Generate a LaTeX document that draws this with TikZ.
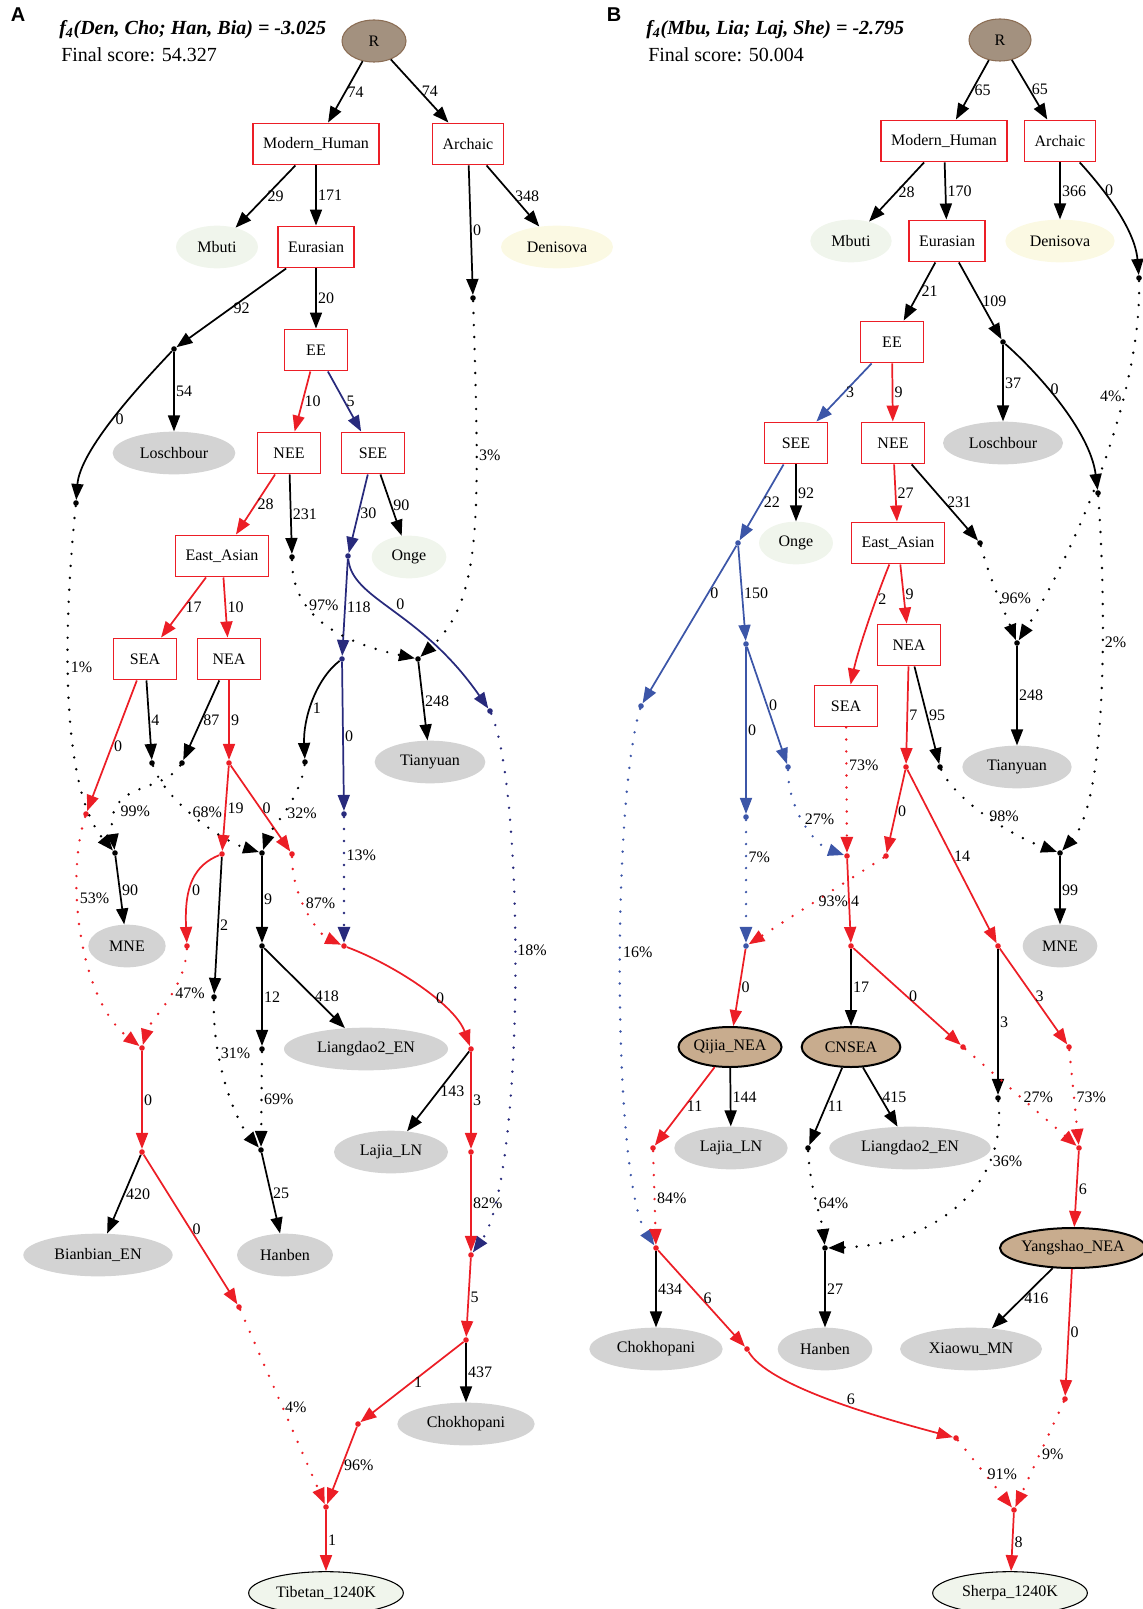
\documentclass[tikz,border=0pt]{standalone}
\usepackage{fontspec}
\setmainfont{Liberation Serif}
\newfontfamily\panelfont{Liberation Sans}
\usetikzlibrary{arrows.meta,shapes.geometric}
\definecolor{gvred}{RGB}{236,30,38}
\definecolor{gvnavy}{RGB}{40,42,124}
\definecolor{gvblue}{RGB}{60,86,168}
\definecolor{popgray}{RGB}{211,211,211}
\definecolor{palegreen}{RGB}{240,245,236}
\definecolor{paleyellow}{RGB}{251,249,227}
\definecolor{rootfill}{RGB}{163,145,127}
\definecolor{rootdraw}{RGB}{139,109,84}
\definecolor{tanfill}{RGB}{200,172,142}
\tikzset{
    every node/.style={font=\fontsize{12}{14}\selectfont},
    grp/.style={draw=gvred, line width=1.2pt, fill=white, minimum width=47pt,
        minimum height=31pt, inner xsep=7.5pt},
    pop/.style={ellipse, fill=popgray, inner sep=0pt, minimum height=32pt, minimum width=#1},
    mixed/.style={ellipse, draw=black, line width=1.5pt, fill=tanfill, inner sep=0pt,
        minimum height=30pt, minimum width=#1},
    target/.style={ellipse, draw=black, line width=0.8pt, fill=palegreen, inner sep=0pt,
        minimum height=32pt, minimum width=#1},
    root/.style={ellipse, draw=rootdraw, line width=0.8pt, fill=rootfill, inner sep=0pt,
        minimum width=48pt, minimum height=31.5pt},
    jn/.style={circle, fill=#1, inner sep=0pt, minimum size=4.2pt},
    br/.style={line width=1.3pt, -{Triangle[length=12pt,width=9pt]}},
    mx/.style={br, line width=2pt, line cap=round, dash pattern=on 0pt off 9pt},
    lab/.style={anchor=west, inner sep=1pt, text=black, pos=0.5},
    ttl/.style={anchor=base west, inner sep=0pt, font=\fontsize{15}{18}\selectfont},
    tag/.style={inner sep=0pt, font={\fontsize{15}{18}\panelfont\bfseries}}
}
\newcommand\MixPoint[3]{\node[jn=#1] (#2) at (#3) {};}

\begin{document}
\begin{tikzpicture}[x=0.75pt, y=-0.75pt]
    \useasboundingbox (0,0) rectangle (1142,1609);
    \begin{scope} % A
        \node[tag] (Atag) at (18,15) {A};
        \node[ttl, font=\fontsize{15}{18}\selectfont\bfseries\itshape] (Atitle) at (59,35) {f\textsubscript{4}(Den, Cho; Han, Bia) = -3.025};
        \node[ttl] (Ascore) at (61,62) {Final score: 54.327};
        \node[root] (AR) at (374,41) {R};
        \node[grp] (AMH) at (316,144) {Modern\_Human};
        \node[grp] (AArc) at (468,144) {Archaic};
        \node[pop=61.5pt, fill=palegreen] (AMbu) at (217,247) {Mbuti};
        \node[grp] (AEur) at (316,247) {Eurasian};
        \node[pop=84pt, fill=paleyellow] (ADen) at (557,247) {Denisova};
        \MixPoint{black}{Aa1}{473,298}
        \MixPoint{black}{Ae1}{174,349}
        \node[grp] (AEE) at (316,350) {EE};
        \node[pop=92pt] (ALos) at (174,453) {Loschbour};
        \node[grp] (ANEE) at (289,453) {NEE};
        \node[grp] (ASEE) at (373,453) {SEE};
        \MixPoint{black}{Ae2}{76,503}
        \node[grp] (AEA) at (222,556) {East\_Asian};
        \MixPoint{black}{An1}{292,557}
        \MixPoint{gvnavy}{As1}{348,556}
        \node[pop=56pt, fill=palegreen] (AOnge) at (409,557) {Onge};
        \node[grp] (ASEA) at (145,659) {SEA};
        \node[grp] (ANEA) at (229,659) {NEA};
        \MixPoint{black}{At1}{418,659}
        \MixPoint{gvnavy}{As2}{342,659}
        \MixPoint{gvnavy}{As3}{490,711}
        \node[pop=83pt] (ATian) at (430,762) {Tianyuan};
        \MixPoint{black}{Ap2}{152,763}
        \MixPoint{black}{Ap3}{182,763}
        \MixPoint{gvred}{Ap4}{229,763}
        \MixPoint{black}{As4}{305,762}
        \MixPoint{gvred}{Ap1}{86,814}
        \MixPoint{gvnavy}{As5}{344,814}
        \MixPoint{black}{Am1}{115,853}
        \MixPoint{gvred}{Ap5}{222,854}
        \MixPoint{black}{Am2}{262,853}
        \MixPoint{gvred}{Ap6}{292,854}
        \node[pop=58pt] (AMNE) at (127,946) {MNE};
        \MixPoint{gvred}{Ap7}{187,946}
        \MixPoint{black}{Am3}{262,946}
        \MixPoint{gvred}{As6}{344,946}
        \MixPoint{black}{Ap8}{214,997}
        \MixPoint{gvred}{Ab1}{142,1048}
        \MixPoint{black}{Am4}{262,1049}
        \node[pop=123pt] (ALia) at (366,1049) {Liangdao2\_EN};
        \MixPoint{gvred}{Ar1}{471,1049}
        \MixPoint{gvred}{Ab2}{142,1152}
        \MixPoint{black}{Ah1}{261,1150}
        \node[pop=85.5pt] (ALaj) at (391,1152) {Lajia\_LN};
        \MixPoint{gvred}{Ar2}{471,1152}
        \node[pop=112pt] (ABian) at (98,1255) {Bianbian\_EN};
        \node[pop=72pt] (AHan) at (285,1255) {Hanben};
        \MixPoint{gvred}{Ar3}{471,1255}
        \MixPoint{gvred}{Ab3}{239,1307}
        \MixPoint{gvred}{Ar4}{466,1340}
        \MixPoint{gvred}{Ar5}{358,1424}
        \node[pop=103pt] (ACho) at (466,1424) {Chokhopani};
        \MixPoint{gvred}{At2}{326,1507}
        \node[target=116pt] (ATib) at (326,1593) {Tibetan\_1240K};
        % tree edges
        \draw[br] (AR) -- node[lab] {74} (AMH);
        \draw[br] (AR) -- node[lab] {74} (AArc);
        \draw[br] (AMH) -- node[lab] {29} (AMbu);
        \draw[br] (AMH) -- node[lab] {171} (AEur);
        \draw[br] (AArc) -- node[lab] {0} (Aa1);
        \draw[br] (AArc) -- node[lab] {348} (ADen);
        \draw[br] (AEur) -- node[lab] {92} (Ae1);
        \draw[br] (AEur) -- node[lab] {20} (AEE);
        \draw[br] (Ae1) -- node[lab] {54} (ALos);
        \draw[br] (Ae1) .. controls (140,385) and (80,450) .. node[lab] {0} (Ae2);
        \draw[br, gvred] (AEE) -- node[lab] {10} (ANEE);
        \draw[br, gvnavy] (AEE) -- node[lab] {5} (ASEE);
        \draw[br, gvred] (ANEE) -- node[lab] {28} (AEA);
        \draw[br] (ANEE) -- node[lab] {231} (An1);
        \draw[br, gvnavy] (ASEE) -- node[lab] {30} (As1);
        \draw[br] (ASEE) -- node[lab] {90} (AOnge);
        \draw[br, gvred] (AEA) -- node[lab] {17} (ASEA);
        \draw[br, gvred] (AEA) -- node[lab] {10} (ANEA);
        \draw[br, gvnavy] (As1) -- node[lab] {118} (As2);
        \draw[br, gvnavy] (As1) .. controls (352,600) and (420,610) .. node[lab, anchor=south west] {0} (As3);
        \draw[br] (At1) -- node[lab] {248} (ATian);
        \draw[br] (As2) .. controls (315,680) and (303,720) .. node[lab, pos=.55] {1} (As4);
        \draw[br, gvnavy] (As2) -- node[lab] {0} (As5);
        \draw[br, gvred] (ASEA) -- node[lab] {0} (Ap1);
        \draw[br] (ASEA) -- node[lab] {4} (Ap2);
        \draw[br] (ANEA) -- node[lab] {87} (Ap3);
        \draw[br, gvred] (ANEA) -- node[lab] {9} (Ap4);
        \draw[br, gvred] (Ap4) -- node[lab] {19} (Ap5);
        \draw[br, gvred] (Ap4) -- node[lab] {0} (Ap6);
        \draw[br] (Am1) -- node[lab] {90} (AMNE);
        \draw[br, gvred] (Ap5) .. controls (195,865) and (184,885) .. node[lab, pos=.6] {0} (Ap7);
        \draw[br] (Ap5) -- node[lab] {2} (Ap8);
        \draw[br] (Am2) -- node[lab] {9} (Am3);
        \draw[br] (Am3) -- node[lab, pos=.6] {418} (ALia);
        \draw[br] (Am3) -- node[lab] {12} (Am4);
        \draw[br, gvred] (As6) .. controls (395,965) and (455,1005) .. node[lab, pos=.6] {0} (Ar1);
        \draw[br, gvred] (Ab1) -- node[lab] {0} (Ab2);
        \draw[br] (Ab2) -- node[lab] {420} (ABian);
        \draw[br, gvred] (Ab2) -- node[lab] {0} (Ab3);
        \draw[br] (Ah1) -- node[lab] {25} (AHan);
        \draw[br] (Ar1) -- node[lab] {143} (ALaj);
        \draw[br, gvred] (Ar1) -- node[lab] {3} (Ar2);
        \draw[br, gvred] (Ar2) -- node[lab] {82\%} (Ar3);
        \draw[br, gvred] (Ar3) -- node[lab] {5} (Ar4);
        \draw[br] (Ar4) -- node[lab] {437} (ACho);
        \draw[br, gvred] (Ar4) -- node[lab] {1} (Ar5);
        \draw[br, gvred] (Ar5) -- node[lab] {96\%} (At2);
        \draw[br, gvred] (At2) -- node[lab] {1} (ATib);
        % admixture edges
        \draw[mx] (Aa1) .. controls (480,520) and (482,600) .. node[lab, pos=.28] {3\%} (At1);
        \draw[mx] (Ae2) .. controls (62,640) and (62,790) .. node[lab, pos=.4] {1\%} (Am1);
        \draw[mx] (An1) .. controls (292,610) and (330,640) .. node[lab, pos=.35] {97\%} (At1);
        \draw[mx] (Ap3) .. controls (160,795) and (105,780) .. node[lab, pos=.75] {99\%} (Am1);
        \draw[mx] (Ap2) .. controls (165,800) and (220,840) .. node[lab, pos=.45] {68\%} (Am2);
        \draw[mx] (As4) .. controls (300,800) and (270,830) .. node[lab, pos=.5] {32\%} (Am2);
        \draw[mx, gvnavy] (As5) -- node[lab, pos=.3] {13\%} (As6);
        \draw[mx, gvred] (Ap6) .. controls (292,900) and (320,935) .. node[lab, pos=.4] {87\%} (As6);
        \draw[mx, gvred] (Ap1) .. controls (65,880) and (80,1000) .. node[lab, pos=.35] {53\%} (Ab1);
        \draw[mx, gvred] (Ap7) .. controls (185,990) and (150,1020) .. node[lab, pos=.4] {47\%} (Ab1);
        \draw[mx] (Ap8) .. controls (212,1060) and (235,1120) .. node[lab, pos=.3] {31\%} (Ah1);
        \draw[mx] (Am4) -- node[lab] {69\%} (Ah1);
        \draw[mx, gvnavy] (As3) .. controls (525,790) and (525,1180) .. node[lab, pos=.45] {18\%} (Ar3);
        \draw[mx, gvred] (Ab3) -- node[lab] {4\%} (At2);
    \end{scope}
    \begin{scope} % B
        \node[tag] (Btag) at (614,15) {B};
        \node[ttl, font=\fontsize{15}{18}\selectfont\bfseries\itshape] (Btitle) at (646,35) {f\textsubscript{4}(Mbu, Lia; Laj, She) = -2.795};
        \node[ttl] (Bscore) at (648,62) {Final score: 50.004};
        \node[root, minimum width=46.5pt] (BR) at (1000,40) {R};
        \node[grp] (BMH) at (944,141) {Modern\_Human};
        \node[grp] (BArc) at (1060,141) {Archaic};
        \node[pop=61pt, fill=palegreen] (BMbu) at (851,241) {Mbuti};
        \node[grp] (BEur) at (947,241) {Eurasian};
        \node[pop=82pt, fill=paleyellow] (BDen) at (1060,241) {Denisova};
        \MixPoint{black}{Bar1}{1139,278}
        \node[grp] (BEE) at (892,342) {EE};
        \MixPoint{black}{Beu1}{1003,342}
        \node[grp] (BSEE) at (796,443) {SEE};
        \node[grp] (BNEE) at (893,443) {NEE};
        \node[pop=90pt] (BLos) at (1003,443) {Loschbour};
        \MixPoint{black}{Beu2}{1098,493}
        \MixPoint{gvblue}{Bse1}{738,543}
        \node[pop=55.5pt, fill=palegreen] (BOnge) at (796,543) {Onge};
        \node[grp] (BEA) at (898,543) {East\_Asian};
        \MixPoint{black}{Bne1}{980,543}
        \MixPoint{gvblue}{Bse3}{746,644}
        \node[grp] (BNEA) at (909,645) {NEA};
        \MixPoint{black}{Bt1}{1017,643}
        \MixPoint{gvblue}{Bse2}{641,706}
        \node[grp] (BSEA) at (846,706) {SEA};
        \MixPoint{gvblue}{Bse5}{788,767}
        \MixPoint{gvred}{Bn2}{906,767}
        \MixPoint{black}{Bn3}{940,767}
        \node[pop=82pt] (BTian) at (1017,767) {Tianyuan};
        \MixPoint{gvblue}{Bse4}{746,817}
        \MixPoint{gvred}{Bc1}{847,856}
        \MixPoint{gvred}{Bn4}{886,856}
        \MixPoint{black}{Bm1}{1060,853}
        \MixPoint{gvblue}{Bq1}{746,946}
        \MixPoint{gvred}{Bc2}{851,946}
        \MixPoint{gvred}{Bn5}{998,946}
        \node[pop=56pt] (BMNE) at (1060,946) {MNE};
        \node[mixed=71pt] (BQij) at (730,1047) {Qijia\_NEA};
        \node[mixed=74pt] (BCN) at (851,1047) {CNSEA};
        \MixPoint{gvred}{Bc3}{963,1047}
        \MixPoint{gvred}{Bn7}{1069,1047}
        \MixPoint{black}{Bn6}{998,1098}
        \MixPoint{gvred}{Bqa}{653,1148}
        \node[pop=85pt] (BLaj) at (731,1148) {Lajia\_LN};
        \MixPoint{black}{Bcn1}{808,1148}
        \node[pop=121pt] (BLia) at (910,1148) {Liangdao2\_EN};
        \MixPoint{gvred}{By1}{1079,1148}
        \MixPoint{gvred}{Bch1}{656,1248}
        \MixPoint{black}{Bh1}{825,1248}
        \node[mixed=95pt] (BYang) at (1073,1248) {Yangshao\_NEA};
        \node[pop=100pt] (BCho) at (656,1349) {Chokhopani};
        \MixPoint{gvred}{Bch2}{747,1349}
        \node[pop=71pt] (BHan) at (825,1349) {Hanben};
        \node[pop=106.5pt] (BXiao) at (971,1349) {Xiaowu\_MN};
        \MixPoint{gvred}{By2}{1065,1399}
        \MixPoint{gvred}{Bch3}{956,1438}
        \MixPoint{gvred}{Bsh1}{1014,1510}
        \node[target=116pt] (BSher) at (1010,1593) {Sherpa\_1240K};
        % tree edges
        \draw[br] (BR) -- node[lab] {65} (BMH);
        \draw[br] (BR) -- node[lab] {65} (BArc);
        \draw[br] (BMH) -- node[lab] {28} (BMbu);
        \draw[br] (BMH) -- node[lab] {170} (BEur);
        \draw[br] (BArc) -- node[lab] {366} (BDen);
        \draw[br] (BArc) .. controls (1105,190) and (1135,230) .. node[lab, pos=.3] {0} (Bar1);
        \draw[br] (BEur) -- node[lab] {21} (BEE);
        \draw[br] (BEur) -- node[lab] {109} (Beu1);
        \draw[br] (Beu1) -- node[lab] {37} (BLos);
        \draw[br] (Beu1) .. controls (1035,370) and (1090,430) .. node[lab, pos=.4] {0} (Beu2);
        \draw[br, gvblue] (BEE) -- node[lab] {3} (BSEE);
        \draw[br, gvred] (BEE) -- node[lab] {9} (BNEE);
        \draw[br, gvblue] (BSEE) -- node[lab] {22} (Bse1);
        \draw[br] (BSEE) -- node[lab] {92} (BOnge);
        \draw[br, gvred] (BNEE) -- node[lab] {27} (BEA);
        \draw[br] (BNEE) -- node[lab] {231} (Bne1);
        \draw[br, gvblue] (Bse1) -- node[lab, pos=.3] {0} (Bse2);
        \draw[br, gvblue] (Bse1) -- node[lab] {150} (Bse3);
        \draw[br, gvred] (BEA) .. controls (875,600) and (858,650) .. node[lab, pos=.3] {2} (BSEA);
        \draw[br, gvred] (BEA) -- node[lab] {9} (BNEA);
        \draw[br] (Bt1) -- node[lab] {248} (BTian);
        \draw[br, gvblue] (Bse3) -- node[lab] {0} (Bse4);
        \draw[br, gvblue] (Bse3) -- node[lab] {0} (Bse5);
        \draw[br, gvred] (BNEA) -- node[lab] {7} (Bn2);
        \draw[br] (BNEA) -- node[lab] {95} (Bn3);
        \draw[br, gvred] (Bn2) -- node[lab] {0} (Bn4);
        \draw[br, gvred] (Bn2) -- node[lab] {14} (Bn5);
        \draw[br] (Bm1) -- node[lab] {99} (BMNE);
        \draw[br, gvred] (Bc1) -- node[lab] {4} (Bc2);
        \draw[br, gvred] (Bq1) -- node[lab] {0} (BQij);
        \draw[br] (Bc2) -- node[lab] {17} (BCN);
        \draw[br, gvred] (Bc2) -- node[lab] {0} (Bc3);
        \draw[br] (Bn5) -- node[lab] {3} (Bn6);
        \draw[br, gvred] (Bn5) -- node[lab] {3} (Bn7);
        \draw[br, gvred] (BQij) -- node[lab] {11} (Bqa);
        \draw[br] (BQij) -- node[lab] {144} (BLaj);
        \draw[br] (BCN) -- node[lab] {11} (Bcn1);
        \draw[br] (BCN) -- node[lab] {415} (BLia);
        \draw[br, gvred] (By1) -- node[lab] {6} (BYang);
        \draw[br] (Bch1) -- node[lab] {434} (BCho);
        \draw[br, gvred] (Bch1) -- node[lab] {6} (Bch2);
        \draw[br] (Bh1) -- node[lab] {27} (BHan);
        \draw[br] (BYang) -- node[lab] {416} (BXiao);
        \draw[br, gvred] (BYang) -- node[lab] {0} (By2);
        \draw[br, gvred] (Bch2) .. controls (768,1385) and (870,1415) .. node[lab, anchor=south, pos=.6] {6} (Bch3);
        \draw[br, gvred] (Bsh1) -- node[lab] {8} (BSher);
        % admixture edges
        \draw[mx] (Bar1) .. controls (1142,400) and (1070,560) .. node[lab, anchor=east, pos=.3] {4\%} (Bt1);
        \draw[mx] (Beu2) .. controls (1106,600) and (1108,800) .. node[lab, pos=.38] {2\%} (Bm1);
        \draw[mx] (Bne1) .. controls (990,580) and (1008,620) .. node[lab] {96\%} (Bt1);
        \draw[mx, gvblue] (Bse2) .. controls (612,800) and (612,1180) .. node[lab, pos=.45] {16\%} (Bch1);
        \draw[mx, gvred] (BSEA) -- node[lab, pos=.3] {73\%} (Bc1);
        \draw[mx, gvblue] (Bse5) .. controls (788,810) and (815,845) .. node[lab, pos=.45] {27\%} (Bc1);
        \draw[mx] (Bn3) .. controls (955,800) and (1010,835) .. node[lab] {98\%} (Bm1);
        \draw[mx, gvred] (Bn4) -- node[lab] {93\%} (Bq1);
        \draw[mx, gvblue] (Bse4) -- node[lab, pos=.3] {7\%} (Bq1);
        \draw[mx, gvred] (Bc3) -- node[lab] {27\%} (By1);
        \draw[mx, gvred] (Bn7) -- node[lab] {73\%} (By1);
        \draw[mx] (Bn6) .. controls (1008,1190) and (930,1245) .. node[lab, pos=.25] {36\%} (Bh1);
        \draw[mx] (Bcn1) .. controls (810,1190) and (822,1220) .. node[lab] {64\%} (Bh1);
        \draw[mx, gvred] (Bqa) -- node[lab] {84\%} (Bch1);
        \draw[mx, gvred] (Bch3) -- node[lab] {91\%} (Bsh1);
        \draw[mx, gvred] (By2) -- node[lab] {9\%} (Bsh1);
    \end{scope}
\end{tikzpicture}
\end{document}
